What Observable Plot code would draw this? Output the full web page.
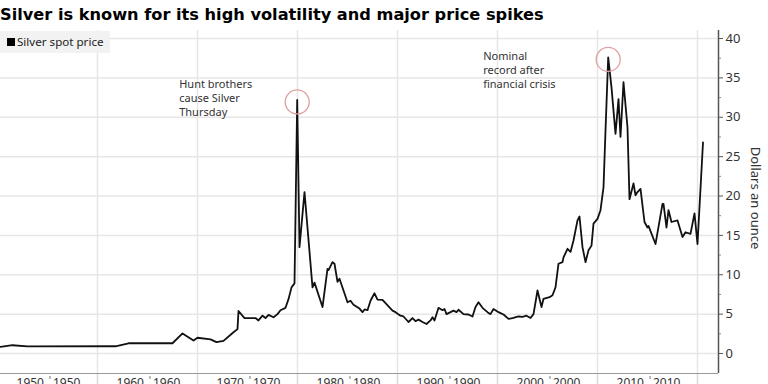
<!DOCTYPE html>
<html><head><meta charset="utf-8">
<script src="https://cdn.jsdelivr.net/npm/d3@7"></script>
<script src="https://cdn.jsdelivr.net/npm/@observablehq/plot@0.6"></script>
<style>
body{margin:0;background:#fff;overflow:hidden;}
#wrap{position:relative;width:768px;height:384px;overflow:hidden;}
#title{font-family:"DejaVu Sans",sans-serif;font-weight:bold;font-size:16.2px;line-height:22px;height:26px;padding-top:4px;color:#000;white-space:nowrap;}
#legend{position:absolute;left:0;top:31px;width:110px;height:22px;background:#f2f2f2;font-family:"Noto Sans",sans-serif;font-size:11.6px;color:#222;line-height:22px;}
#legend .sw{position:absolute;left:7px;top:7px;width:8px;height:8px;background:#000;}
#legend .lb{position:absolute;left:17px;top:0;}
</style></head><body>
<div id="wrap">
<div id="title">Silver is known for its high volatility and major price spikes</div>
<div id="chart"></div>
<div id="legend"><span class="sw"></span><span class="lb">Silver spot price</span></div>
</div>
<script>
const seriesName = "Silver spot price";
const years = [1950.3, 1951.5, 1953.0, 1961.8, 1963.1, 1967.5, 1968.5, 1969.6, 1970.0, 1971.3, 1971.9, 1972.6, 1973.6, 1974.0, 1974.1, 1974.7, 1975.8, 1976.1, 1976.5, 1976.8, 1977.1, 1977.6, 1978.0, 1978.3, 1978.8, 1979.1, 1979.4, 1979.7, 1979.97, 1980.2, 1980.7, 1981.5, 1981.7, 1982.5, 1983.0, 1983.1, 1983.5, 1983.7, 1984.0, 1984.2, 1985.0, 1985.3, 1985.6, 1986.2, 1986.5, 1986.7, 1987.0, 1987.3, 1987.7, 1988.0, 1988.5, 1989.5, 1989.8, 1990.3, 1990.6, 1991.1, 1991.5, 1991.8, 1992.1, 1992.5, 1992.9, 1993.3, 1993.5, 1993.7, 1994.1, 1994.5, 1994.7, 1994.9, 1995.3, 1995.6, 1995.9, 1996.1, 1996.6, 1997.1, 1997.5, 1997.8, 1998.1, 1998.5, 1999.0, 1999.3, 1999.6, 2000.1, 2000.6, 2001.1, 2001.5, 2002.1, 2002.5, 2002.9, 2003.3, 2003.6, 2004.0, 2004.4, 2004.6, 2005.2, 2005.5, 2005.8, 2006.1, 2006.5, 2006.6, 2007.0, 2007.3, 2007.6, 2008.0, 2008.2, 2008.5, 2008.8, 2009.1, 2009.4, 2009.6, 2010.0, 2010.3, 2010.6, 2010.8, 2011.07, 2011.4, 2011.8, 2012.1, 2012.3, 2012.6, 2013.0, 2013.2, 2013.6, 2013.8, 2014.0, 2014.3, 2014.7, 2015.0, 2015.1, 2015.8, 2016.5, 2016.6, 2016.9, 2017.1, 2017.4, 2018.0, 2018.5, 2018.8, 2019.3, 2019.7, 2020.0, 2020.55];
const prices = [0.85, 1.05, 0.9, 0.92, 1.3, 1.3, 2.55, 1.65, 2.0, 1.8, 1.45, 1.6, 2.7, 3.1, 5.4, 4.5, 4.5, 4.2, 4.8, 4.5, 4.9, 4.6, 5.0, 5.5, 5.8, 6.9, 8.4, 8.9, 32.2, 13.5, 20.5, 8.4, 9.0, 5.9, 10.75, 10.6, 11.6, 11.4, 9.1, 9.5, 6.5, 6.7, 6.2, 5.7, 5.25, 5.6, 5.5, 6.7, 7.65, 6.85, 6.8, 5.45, 5.25, 4.8, 4.7, 4.0, 4.5, 4.1, 4.3, 4.0, 3.75, 4.2, 4.6, 4.2, 5.8, 5.5, 5.65, 5.0, 5.25, 5.45, 5.25, 5.55, 5.0, 4.95, 4.7, 5.9, 6.5, 5.8, 5.25, 5.0, 5.65, 5.25, 4.95, 4.4, 4.5, 4.7, 4.65, 4.8, 4.5, 5.0, 8.0, 5.9, 6.95, 7.15, 7.4, 8.4, 11.4, 11.6, 12.2, 13.3, 12.9, 14.35, 16.9, 17.4, 13.5, 11.6, 13.1, 13.7, 16.5, 17.1, 18.2, 21.1, 28.3, 37.6, 33.8, 27.9, 32.3, 27.5, 34.45, 28.7, 19.6, 21.6, 20.1, 20.5, 20.9, 16.7, 16.0, 16.2, 13.9, 19.0, 19.0, 16.0, 18.2, 16.7, 16.9, 14.8, 15.4, 15.2, 17.8, 13.9, 26.8];
const yTicks = [0, 5, 10, 15, 20, 25, 30, 35, 40];
const yMinorTicks = [2.5, 7.5, 12.5, 17.5, 22.5, 27.5, 32.5, 37.5];
const decadeLines = [1960, 1970, 1980, 1990, 2000, 2010, 2020];
const decadeLabels = ["1950", "1960", "1970", "1980", "1990", "2000", "2010"];
const decadeStarts = [1950, 1960, 1970, 1980, 1990, 2000, 2010];
const annoYears = [1979.97, 2011.07];
const annoPrices = [32.2, 37.6];
const annoTexts = ["Hunt brothers\ncause Silver\nThursday", "Nominal\nrecord after\nfinancial crisis"];
const yLabel = "Dollars an ounce";

const xDomain = [1950.3, 2022.1];
const yDomain = [-2.54, 41.02];

const data = years.map((y, i) => ({year: y, price: prices[i]}));
const mids = decadeStarts.map(d => d + 5.25);
const labelData = decadeLabels.map((t, i) => ({x: mids[i], t}));
const annos = annoTexts.map((t, i) => ({x: annoYears[i], y: annoPrices[i], t}));
const font = "Noto Sans, sans-serif";

const chart = Plot.plot({
  width: 768,
  height: 373,
  marginTop: 0,
  marginLeft: 0,
  marginRight: 50,
  marginBottom: 30,
  style: {fontFamily: font, background: "transparent", overflow: "visible"},
  x: {domain: xDomain, axis: null},
  y: {domain: yDomain, axis: null},
  marks: [
    Plot.gridY({ticks: yTicks, stroke: "#e6e6e6", strokeOpacity: 1, strokeWidth: 1.5}),
    Plot.gridX({ticks: decadeLines, stroke: "#e6e6e6", strokeOpacity: 1, strokeWidth: 1.5}),
    Plot.axisX({ticks: decadeLines, tickSize: 14, tickFormat: () => "", stroke: "#d8d8d8", strokeWidth: 1.5}),
    Plot.axisX({ticks: mids, tickSize: 3, dy: 3, tickFormat: () => "", stroke: "#777"}),
    Plot.text(labelData, {x: "x", text: "t", frameAnchor: "bottom", lineAnchor: "top", textAnchor: "end", dx: -6, dy: 5, fontSize: 12, fill: "#333"}),
    Plot.text(labelData, {x: "x", text: "t", frameAnchor: "bottom", lineAnchor: "top", textAnchor: "start", dx: 3, dy: 5, fontSize: 12, fill: "#333"}),
    Plot.ruleY([yDomain[0]], {stroke: "#999", strokeWidth: 1.2}),
    Plot.ruleX([xDomain[1]], {stroke: "#555", strokeWidth: 1.5}),
    Plot.axisY({anchor: "right", ticks: yTicks, tickSize: 4, tickPadding: 3, fontSize: 13, label: null, color: "#333", stroke: "#555"}),
    Plot.axisY({anchor: "right", ticks: yMinorTicks, tickSize: 2, tickFormat: () => "", label: null, stroke: "#888"}),
    Plot.text([yLabel], {frameAnchor: "right", textAnchor: "middle", rotate: 90, dx: 37, dy: -4, fontSize: 13, fill: "#333"}),
    Plot.line(data, {x: "year", y: "price", stroke: "#111", strokeWidth: 1.8, strokeLinejoin: "round"}),
    Plot.dot(annos, {x: "x", y: "y", r: 12, dy: 2, stroke: "#e0a0a0", strokeWidth: 1.3, fill: "none"}),
    Plot.text(annos.slice(0, 1), {x: "x", y: "y", text: "t", textAnchor: "start", lineAnchor: "top", dx: -118, dy: -22, fontSize: 11, lineHeight: 1.27, fill: "#333"}),
    Plot.text(annos.slice(1), {x: "x", y: "y", text: "t", textAnchor: "start", lineAnchor: "top", dx: -125, dy: -7, fontSize: 11, lineHeight: 1.27, fill: "#333"})
  ]
});
document.getElementById("chart").appendChild(chart);
</script>
</body></html>
